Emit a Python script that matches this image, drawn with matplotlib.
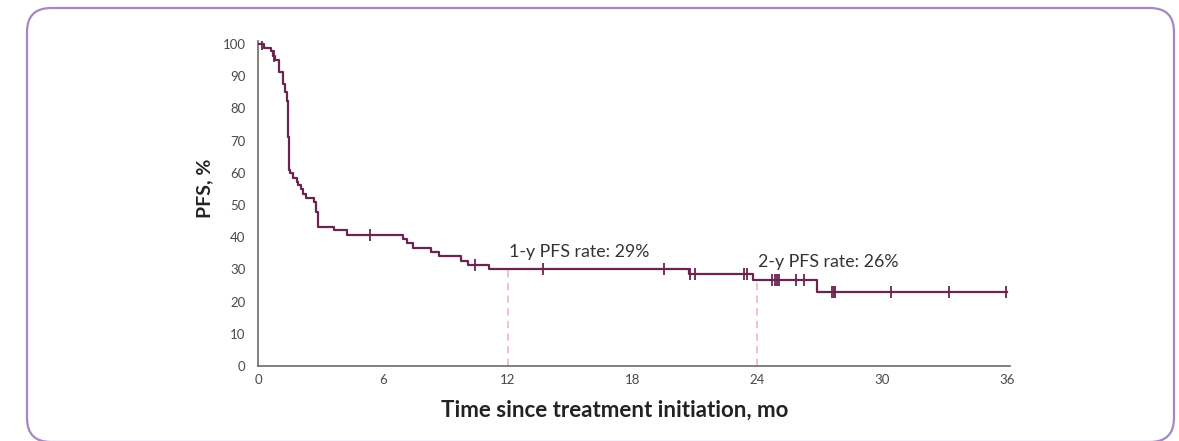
import numpy as np
import matplotlib.pyplot as plt
from matplotlib.patches import FancyBboxPatch

# Kaplan-Meier step data (months, PFS %)
event_times = [0, 0.29, 0.61, 0.74, 0.82, 1.01, 1.19, 1.30, 1.38, 1.43, 1.50, 1.56,
               1.67, 1.86, 1.90, 2.07, 2.18, 2.31, 2.71, 2.77, 2.87, 3.65, 4.28,
               6.96, 7.15, 7.47, 8.32, 8.72, 9.74, 10.10, 11.12, 20.70, 23.80,
               26.86, 36.0]
pfs = [100, 98.7, 97.8, 96.2, 95.0, 91.2, 87.5, 85.0, 82.4, 71.2, 61.0, 59.8,
       58.3, 57.0, 56.2, 54.9, 53.4, 52.3, 51.0, 47.9, 43.3, 42.1, 40.7,
       39.4, 38.3, 36.7, 35.5, 34.3, 32.7, 31.4, 30.1, 28.6, 26.7,
       23.1, 23.1]
censor_times = [0.18, 0.77, 5.38, 10.43, 13.7, 19.5, 20.77, 21.0, 23.38, 23.5,
                24.7, 24.85, 24.95, 25.05, 25.85, 26.27, 27.6, 27.68, 27.75,
                30.43, 33.2, 35.96]

landmarks = [12, 24]
landmark_rates = [30.1, 26.7]
landmark_labels = ["1-y PFS rate: 29%", "2-y PFS rate: 26%"]

xticks = [0, 6, 12, 18, 24, 30, 36]
yticks = list(range(0, 101, 10))

line_color = "#6b2350"
frame_color = "#a886c2"
text_color = "#4a4a4a"

plt.rcParams['font.family'] = ['Lato', 'DejaVu Sans']

W, H = 1179, 441
fig = plt.figure(figsize=(W / 100, H / 100), dpi=100)

# background axes in pixel units for the rounded frame (y measured from bottom)
bg = fig.add_axes([0, 0, 1, 1])
bg.set_xlim(0, W)
bg.set_ylim(0, H)
bg.axis('off')
frame = FancyBboxPatch((27, -1), 1147, H - 8 + 1, boxstyle="round,pad=0,rounding_size=24",
                       facecolor="none", edgecolor=frame_color, linewidth=1.6)
bg.add_patch(frame)

ax = fig.add_axes([258 / W, 1 - 366 / H, 752 / W, 324.6 / H])

# KM curve
ax.step(event_times, pfs, where='post', color=line_color, linewidth=1.6, zorder=3)

# censor marks on the curve
idx = np.searchsorted(event_times, censor_times, side='right') - 1
censor_vals = np.array(pfs)[idx]
ax.plot(censor_times, censor_vals, linestyle='none', marker='|', markersize=9,
        markeredgewidth=1.3, color=line_color, zorder=4)

# landmark lines and labels
for x, r, lab in zip(landmarks, landmark_rates, landmark_labels):
    ax.plot([x, x], [0, r], color="#f5b8d2", linestyle=(0, (4, 3)), linewidth=1.3, zorder=2)
    ax.text(x + 0.05, r + 3.9, lab, fontsize=12.8, color="#333333", ha='left', va='baseline')

ax.set_xlim(0, 36.15)
ax.set_ylim(0, 100.8)
ax.set_xticks(xticks)
ax.set_yticks(yticks)
ax.tick_params(axis='both', length=0, labelsize=9.5, labelcolor=text_color)
ax.tick_params(axis='y', pad=9)
ax.tick_params(axis='x', pad=6)

for side in ['top', 'right']:
    ax.spines[side].set_visible(False)
for side in ['left', 'bottom']:
    ax.spines[side].set_color("#6e6a66")
    ax.spines[side].set_linewidth(1.2)

ax.set_ylabel("PFS, %", fontsize=14, fontweight='bold', color="#222222", va='center')
ax.yaxis.set_label_coords(-0.0705, 0.548)
ax.set_xlabel("Time since treatment initiation, mo", fontsize=16, fontweight='bold',
              color="#222222", va='baseline')
ax.xaxis.set_label_coords(0.474, -0.157)

fig.savefig("out.png", dpi=100)
